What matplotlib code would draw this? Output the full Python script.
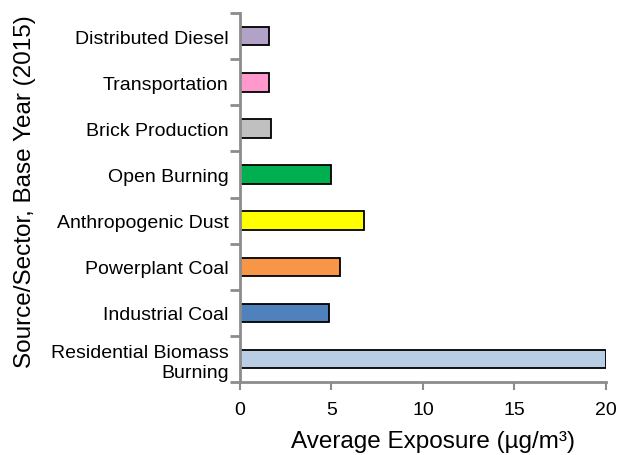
import numpy as np
import matplotlib
matplotlib.use("Agg")
import matplotlib.pyplot as plt

plt.rcParams["font.family"] = ["Liberation Sans", "DejaVu Sans"]

sources = ["Residential Biomass\nBurning", "Industrial Coal", "Powerplant Coal",
           "Anthropogenic Dust", "Open Burning", "Brick Production",
           "Transportation", "Distributed Diesel"]
exposure = [20.0, 4.9, 5.5, 6.8, 5.0, 1.7, 1.6, 1.6]
colors = ["#B9CDE5", "#4F81BD", "#F79646", "#FFFF00", "#00B050",
          "#C0C0C0", "#FF99CC", "#B3A2C7"]

GRAY = "#8C8C8C"

fig = plt.figure(figsize=(6.21, 4.56), dpi=100)
ax = fig.add_axes([0.386, 0.160, 0.590, 0.809])

y = np.arange(len(sources))
ax.barh(y, exposure, height=0.4, color=colors, edgecolor="black", linewidth=1.3)

ax.set_xlim(0, 20)
ax.set_ylim(-0.5, len(sources) - 0.5)
ax.set_xticks([0, 5, 10, 15, 20])
ax.tick_params(axis="x", labelsize=14, direction="out", length=6, width=1.5,
               color=GRAY, pad=8)

ax.set_yticks(y)
ax.set_yticklabels(sources, fontsize=14, linespacing=1.2)
ax.tick_params(axis="y", which="major", length=0, pad=8)
ax.set_yticks(np.arange(-0.5, len(sources), 1.0), minor=True)
ax.tick_params(axis="y", which="minor", direction="out", length=7, width=2, color=GRAY)

for s in ["top", "right"]:
    ax.spines[s].set_visible(False)
for s in ["left", "bottom"]:
    ax.spines[s].set_color(GRAY)
    ax.spines[s].set_linewidth(2)

ax.set_xlabel("Average Exposure (µg/m³)", fontsize=17.5)
ax.xaxis.set_label_coords(0.527, -0.13)
ax.set_ylabel("Source/Sector, Base Year (2015)", fontsize=17.5)
ax.yaxis.set_label_coords(-0.555, 0.52)

fig.savefig("out.png", dpi=100)
